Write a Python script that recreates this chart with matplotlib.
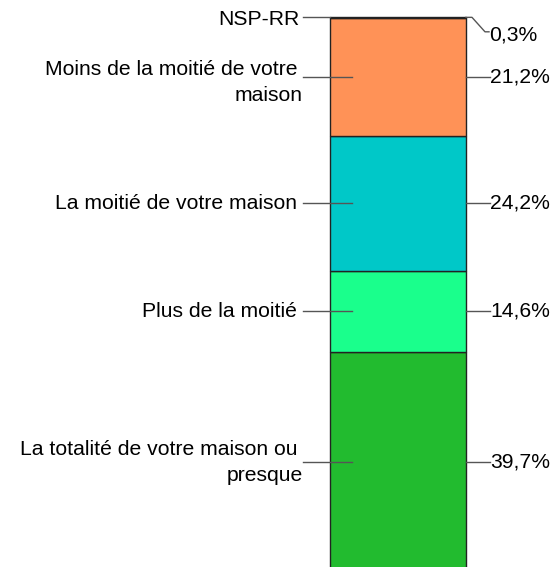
import matplotlib.pyplot as plt
import numpy as np

plt.rcParams['font.family'] = ['Liberation Sans', 'DejaVu Sans']

categories = ["La totalité de votre maison ou \npresque", "Plus de la moitié",
              "La moitié de votre maison", "Moins de la moitié de votre \nmaison", "NSP-RR"]
values = [39.7, 14.6, 24.2, 21.2, 0.3]
value_labels = ["39,7%", "14,6%", "24,2%", "21,2%", "0,3%"]
colors = ["#22BB2F", "#1AFF8C", "#00C8C8", "#FF9257", "#333333"]

fig = plt.figure(figsize=(5.54, 5.67), dpi=100)
ax = fig.add_axes([0, 0, 1, 1])
ax.set_xlim(0, 554)
ax.set_ylim(1.0, 102.97)
ax.axis("off")

bar_x, bar_w = 398, 136
bottoms = np.concatenate([[0], np.cumsum(values)[:-1]])
ax.bar(bar_x, values, width=bar_w, bottom=bottoms, color=colors,
       edgecolor="#222222", linewidth=1.0)

line_c = "#555555"
fs = 15.2
for i, (cat, v, b, lab) in enumerate(zip(categories, values, bottoms, value_labels)):
    yc = b + v / 2
    if i < 4:
        ax.plot([303, 352], [yc, yc], color=line_c, lw=1)
        multi = "\n" in cat
        tx = 303 if multi else 297
        ty = yc - 1.0 if i == 3 else yc
        ax.text(tx, ty, cat, ha="right", va="center", fontsize=fs, linespacing=1.45)
        ax.plot([466, 490], [yc, yc], color=line_c, lw=1)
        ax.text(490, yc, lab, ha="left", va="center", fontsize=fs)
    else:
        ax.plot([303, 330], [yc, yc], color=line_c, lw=1)
        ax.text(300, yc - 0.3, cat, ha="right", va="center", fontsize=fs)
        ax.plot([466, 472, 485, 489], [yc, yc, yc - 2.6, yc - 2.6], color=line_c, lw=1)
        ax.text(489, yc - 3.1, lab, ha="left", va="center", fontsize=fs)

fig.savefig("out.png", dpi=100)
